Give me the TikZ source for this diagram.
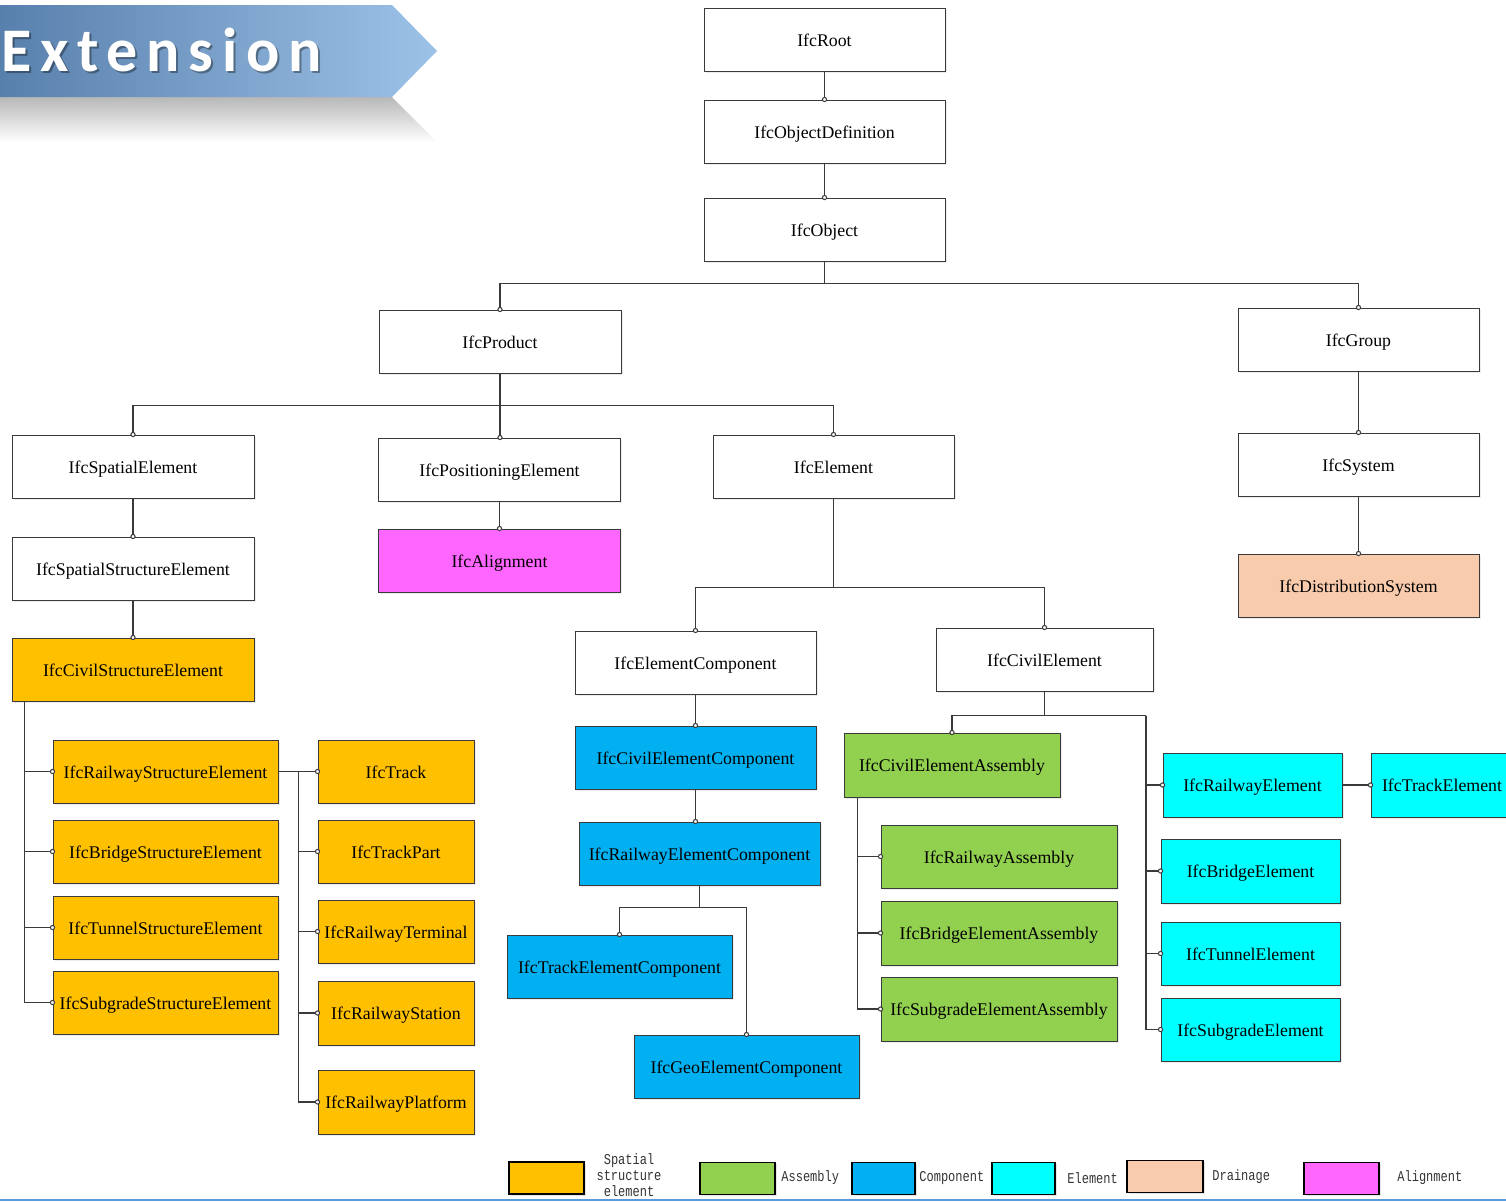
\documentclass[tikz,border=0pt]{standalone}
\usepackage{fontspec}
\setmainfont{Liberation Serif}
\newfontfamily\bannerfont[LetterSpace=14]{Carlito}
\newfontfamily\legendfont[FakeStretch=0.8]{Liberation Mono}
\usetikzlibrary{arrows.meta,shadows,calc}

\definecolor{cOrange}{HTML}{FFC000}
\definecolor{cGreen}{HTML}{92D050}
\definecolor{cBlue}{HTML}{00B0F0}
\definecolor{cCyan}{HTML}{00FFFF}
\definecolor{cPeach}{HTML}{F8CBAD}
\definecolor{cMagenta}{HTML}{FF66FF}
\definecolor{cLine}{HTML}{3A3A3A}
\definecolor{cBanDark}{HTML}{5880AC}
\definecolor{cBanLight}{HTML}{9DC2E8}
\definecolor{cRule}{HTML}{5B9BD5}

\begin{document}
\begin{tikzpicture}[x=0.5pt,y=-0.5pt,
  box/.style={draw=cLine, line width=0.5pt, fill=white, inner sep=0pt,
    minimum width=120.5pt, minimum height=31.5pt,
    text height=0.72em, text depth=0.06em,
    font=\fontsize{8.9}{10}\selectfont,
    drop shadow={shadow xshift=0.8pt, shadow yshift=-0.8pt, opacity=0.15}},
  wd/.style={minimum width=#1*0.5pt},
  ht/.style={minimum height=#1*0.5pt},
  wire/.style={draw=cLine, line width=0.55pt},
  link/.style={wire, -{Circle[length=2.6pt,width=2.6pt,fill=white,line width=0.5pt]}, shorten >=-1.3pt},
  legbox/.style={draw=black, line width=0.6pt, inner sep=0pt, minimum height=16pt,
    drop shadow={shadow xshift=0.8pt, shadow yshift=-0.8pt, opacity=0.2}},
  legtext/.style={inner sep=0pt, font=\legendfont\fontsize{7.5}{8}\selectfont, text=black!80},
]
\useasboundingbox (0,0) rectangle (1506,1201);

% ---- title banner ----
\shade[top color=black!28, bottom color=white]
  (0,97) -- (392,97) -- (437,142) -- (0,142) -- cycle;
\shade[left color=cBanDark, right color=cBanLight]
  (0,5) -- (392,5) -- (437,51) -- (392,97) -- (0,97) -- cycle;
\node[anchor=base west, inner sep=0pt, text=black, opacity=0.35,
  font=\bannerfont\bfseries\fontsize{31}{31}\selectfont] (titleshadow) at (3,73) {Extension};
\node[anchor=base west, inner sep=0pt, text=white,
  font=\bannerfont\bfseries\fontsize{31}{31}\selectfont] (title) at (1,71) {Extension};

% ---- kernel hierarchy ----
\node[box] (root)   at (824.5,39.5)  {IfcRoot};
\node[box] (objdef) at (824.5,131.5) {IfcObjectDefinition};
\node[box] (obj)    at (824.5,229.5) {IfcObject};
\node[box, wd=242] (prod) at (500,341.5)  {IfcProduct};
\node[box] (grp)    at (1358.5,339.5) {IfcGroup};
\node[box, wd=242] (spat) at (133,466.5)  {IfcSpatialElement};
\node[box, wd=242] (pos)  at (499.5,469.5) {IfcPositioningElement};
\node[box] (elem)   at (833.5,466.5) {IfcElement};
\node[box] (sys)    at (1358.5,464.5) {IfcSystem};
\node[box, wd=242] (sse)  at (133,568.5) {IfcSpatialStructureElement};
\node[box, wd=242, fill=cMagenta] (algn) at (499.5,560.5) {IfcAlignment};
\node[box, fill=cPeach] (dist) at (1358.5,585.5) {IfcDistributionSystem};
\node[box] (ec)     at (695.5,662.5) {IfcElementComponent};
\node[box, wd=217] (ce) at (1044.5,659.5) {IfcCivilElement};

% ---- spatial structure elements ----
\node[box, wd=242, fill=cOrange] (cse) at (133,669.5) {IfcCivilStructureElement};
\node[box, wd=225, fill=cOrange] (rse)  at (165.5,771.5)  {IfcRailwayStructureElement};
\node[box, wd=225, fill=cOrange] (bse)  at (165.5,851.5)  {IfcBridgeStructureElement};
\node[box, wd=225, fill=cOrange] (tse)  at (165.5,927.5)  {IfcTunnelStructureElement};
\node[box, wd=225, fill=cOrange] (sgse) at (165.5,1002.5) {IfcSubgradeStructureElement};
\node[box, wd=156, fill=cOrange] (trk) at (396,771.5)  {IfcTrack};
\node[box, wd=156, fill=cOrange] (tp)  at (396,851.5)  {IfcTrackPart};
\node[box, wd=156, fill=cOrange] (rt)  at (396,931.5)  {IfcRailwayTerminal};
\node[box, wd=156, ht=64, fill=cOrange] (rs) at (396,1013) {IfcRailwayStation};
\node[box, wd=156, ht=64, fill=cOrange] (rp) at (396,1102) {IfcRailwayPlatform};

% ---- components ----
\node[box, fill=cBlue] (cec) at (695.5,757.5) {IfcCivilElementComponent};
\node[box, fill=cBlue] (rec) at (699.5,853.5) {IfcRailwayElementComponent};
\node[box, wd=225, fill=cBlue] (tec) at (619.5,966.5)  {IfcTrackElementComponent};
\node[box, wd=225, fill=cBlue] (gec) at (746.5,1066.5) {IfcGeoElementComponent};

% ---- assemblies ----
\node[box, wd=216, ht=64, fill=cGreen] (cea) at (952,765) {IfcCivilElementAssembly};
\node[box, wd=236, fill=cGreen] (ra)  at (999,856.5) {IfcRailwayAssembly};
\node[box, wd=236, ht=64, fill=cGreen] (bea) at (999,933)  {IfcBridgeElementAssembly};
\node[box, wd=236, ht=64, fill=cGreen] (sea) at (999,1009) {IfcSubgradeElementAssembly};

% ---- elements ----
\node[box, wd=179, ht=64, fill=cCyan] (rwe) at (1252.5,785) {IfcRailwayElement};
\node[box, wd=142, ht=64, fill=cCyan] (tre) at (1442,785)   {IfcTrackElement};
\node[box, wd=179, ht=64, fill=cCyan] (bre) at (1250.5,871) {IfcBridgeElement};
\node[box, wd=179, fill=cCyan] (tue) at (1250.5,953.5)  {IfcTunnelElement};
\node[box, wd=179, fill=cCyan] (sge) at (1250.5,1029.5) {IfcSubgradeElement};

% ---- connectors ----
\draw[link] (root.south) -- (objdef.north);
\draw[link] (objdef.south) -- (obj.north);
\draw[link] (obj.south) -- ++(0,22) -| (prod.north);
\draw[link] (obj.south) -- ++(0,22) -| (grp.north);
\draw[link] (grp.south) -- (sys.north);
\draw[link] (sys.south) -- (dist.north);
\draw[link] (prod.south) -- ++(0,32) -| (spat.north);
\draw[link] (prod.south) -- (prod.south |- pos.north);
\draw[link] (prod.south) -- ++(0,32) -| (elem.north);
\draw[link] (spat.south) -- (sse.north);
\draw[link] (sse.south) -- (cse.north);
\draw[link] (pos.south) -- (algn.north);
\draw[link] (elem.south) -- ++(0,89) -| (ec.north);
\draw[link] (elem.south) -- ++(0,89) -| (ce.north);
\draw[link] (ec.south) -- (cec.north);
\draw[link] (cec.south) -- (cec.south |- rec.north);
\draw[link] (rec.south) -- ++(0,22) -| (tec.north);
\draw[link] (rec.south) -- ++(0,22) -| (gec.north);

\coordinate (cseT) at ($(cse.south west)+(13,0)$);
\draw[link] (cseT) |- (rse.west);
\draw[link] (cseT) |- (bse.west);
\draw[link] (cseT) |- (tse.west);
\draw[link] (cseT) |- (sgse.west);

\coordinate (trkT) at ($(rse.east)+(20,0)$);
\draw[link] (rse.east) -- (trk.west);
\draw[link] (trkT) |- (tp.west);
\draw[link] (trkT) |- (rt.west);
\draw[link] (trkT) |- (rs.west);
\draw[link] (trkT) |- (rp.west);

\coordinate (ceBus) at ($(ce.south)+(101.5,24)$);
\draw[link] (ce.south) -- ++(0,24) -| (cea.north);
\draw[wire] (ce.south) -- ++(0,24) -- (ceBus);
\draw[link] (ceBus) |- (rwe.west);
\draw[link] (ceBus) |- (bre.west);
\draw[link] (ceBus) |- (tue.west);
\draw[link] (ceBus) |- (sge.west);
\draw[link] (rwe.east) -- (tre.west);

\coordinate (ceaT) at ($(cea.south west)+(14,0)$);
\draw[link] (ceaT) |- (ra.west);
\draw[link] (ceaT) |- (bea.west);
\draw[link] (ceaT) |- (sea.west);

% ---- legend ----
\node[legbox, wd=75, fill=cOrange]  (lgA) at (546.5,1178) {};
\node[legtext, align=center]        (ltA) at (629,1175) {Spatial\\structure\\element};
\node[legbox, wd=75, fill=cGreen]   (lgB) at (737.5,1178.5) {};
\node[legtext, anchor=west]         (ltB) at (781,1178) {Assembly};
\node[legbox, wd=63, fill=cBlue]    (lgC) at (883.5,1178.5) {};
\node[legtext, anchor=west]         (ltC) at (919,1178) {Component};
\node[legbox, wd=63, fill=cCyan]    (lgD) at (1023.5,1178.5) {};
\node[legtext, anchor=west]         (ltD) at (1067,1178) {Element};
\node[legbox, wd=76, fill=cPeach]   (lgE) at (1165,1176.5) {};
\node[legtext, anchor=west]         (ltE) at (1212,1177) {Drainage};
\node[legbox, wd=75, fill=cMagenta] (lgF) at (1341.5,1178.5) {};
\node[legtext, anchor=west]         (ltF) at (1397,1178) {Alignment};

\draw[cRule, line width=1pt] (0,1200) -- (1506,1200);
\end{tikzpicture}
\end{document}
